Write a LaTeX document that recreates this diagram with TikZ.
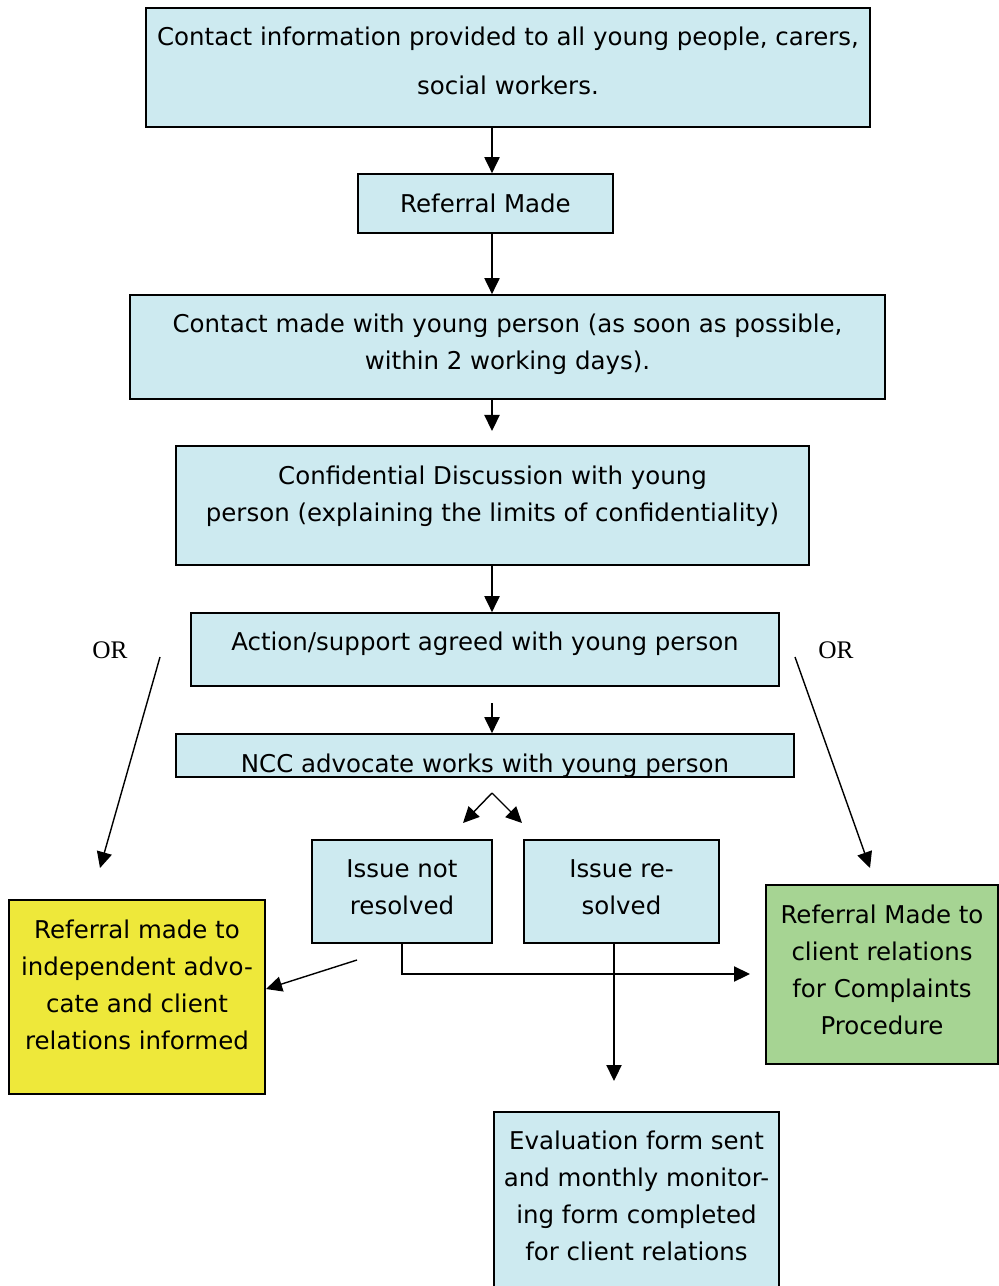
\documentclass[tikz,border=0pt]{standalone}
\usepackage{fontspec}
\setmainfont{DejaVu Sans}
\newfontfamily\orfont{Liberation Serif}
\usetikzlibrary{arrows.meta,positioning}
\usepackage{xcolor}
\definecolor{mblue}{HTML}{CDEAF0}
\definecolor{myellow}{HTML}{EEE83A}
\definecolor{mgreen}{HTML}{A6D493}
\tikzstyle{l1}=[line width=1.2pt]
\tikzstyle{box}=[rectangle, draw=black, l1, fill=mblue, inner sep=0pt]
\tikzstyle{txt}=[align=center, inner sep=0pt, font=\fontsize{17.4}{26.3}\selectfont]
\tikzstyle{arr}=[line width=1pt, -{Triangle[length=0.4cm,width=0.38cm]}]
\tikzstyle{ortext}=[font=\orfont\fontsize{18}{20}\selectfont]

\begin{document}
\begin{tikzpicture}[x=0.025cm, y=-0.025cm]
    \path[fill=white, use as bounding box] (0,0) rectangle (998,1286);

    % boxes
    \node[box, minimum width=18.1cm, minimum height=2.975cm] at (508,67.5) (cinfo) {};
    \node[txt, font=\fontsize{17.4}{34.9}\selectfont] at ([yshift=0.175cm]cinfo) (cinfo-t)
        {Contact information provided to all young people, carers,\\ social workers.};
    \node[box, minimum width=6.375cm, minimum height=1.475cm] at (485.5,203.5) (refmade) {};
    \node[txt] at (refmade) (refmade-t) {Referral Made};
    \node[box, minimum width=18.875cm, minimum height=2.6cm] at (507.5,347) (cmade) {};
    \node[txt] at ([yshift=0.075cm]cmade) (cmade-t)
        {Contact made with young person (as soon as possible,\\ within 2 working days).};
    \node[box, minimum width=15.825cm, minimum height=2.975cm] at (492.5,505.5) (confdisc) {};
    \node[txt] at ([yshift=0.24cm]confdisc) (confdisc-t)
        {Confidential Discussion with young\\ person (explaining the limits of confidentiality)};
    \node[box, minimum width=14.7cm, minimum height=1.825cm] at (485,649.5) (agreed) {};
    \node[txt] at ([yshift=0.15cm]agreed) (agreed-t) {Action/support agreed with young person};
    \node[box, minimum width=15.45cm, minimum height=1.075cm] at (485,755.5) (ncc) {};
    \node[txt] at ([yshift=-0.25cm]ncc) (ncc-t) {NCC advocate works with young person};
    \node[box, minimum width=4.5cm, minimum height=2.575cm] at (402,891.5) (notres) {};
    \node[txt] at ([yshift=0.1cm]notres) (notres-t) {Issue not\\ resolved};
    \node[box, minimum width=4.875cm, minimum height=2.575cm] at (621.5,891.5) (resolved) {};
    \node[txt] at ([yshift=0.1cm]resolved) (resolved-t) {Issue re-\\ solved};
    \node[box, fill=myellow, minimum width=6.4cm, minimum height=4.85cm] at (137,997) (indep) {};
    \node[txt] at ([yshift=0.3cm]indep) (indep-t)
        {Referral made to\\ independent advo-\\ cate and client\\ relations informed};
    \node[box, fill=mgreen, minimum width=5.8cm, minimum height=4.475cm] at (882,974.5) (complaints) {};
    \node[txt] at ([yshift=0.12cm]complaints) (complaints-t)
        {Referral Made to\\ client relations\\ for Complaints\\ Procedure};
    \node[box, minimum width=7.125cm, minimum height=4.7cm] at (636.5,1206) (evalform) {};
    \node[txt] at ([yshift=0.25cm]evalform) (evalform-t)
        {Evaluation form sent\\ and monthly monitor-\\ ing form completed\\ for client relations};

    \node[ortext] at (110,650) (orl) {OR};
    \node[ortext] at (836,650) (orr) {OR};

    % free ends
    \coordinate (mid) at (492,0);
    \coordinate (c3) at (492,431);
    \coordinate (a5) at (492,703);
    \coordinate (fork) at (492,793);
    \coordinate (fl) at (463,823);
    \coordinate (fr) at (522,823);
    \coordinate (orl1) at (160,657);
    \coordinate (orl2) at (100,868);
    \coordinate (orr1) at (795,657);
    \coordinate (orr2) at (870,868);
    \coordinate (nr1) at (357,960);
    \coordinate (nr2) at (266,989);
    \coordinate (cr) at (750,974);
    \coordinate (ev) at (614,1081);

    % connectors
    \draw[arr] (cinfo.south -| mid) -- (refmade.north -| mid);
    \draw[arr] (refmade.south -| mid) -- (cmade.north -| mid);
    \draw[arr] (cmade.south -| mid) -- (c3);
    \draw[arr] (confdisc.south -| mid) -- (agreed.north -| mid);
    \draw[arr] (a5) -- (ncc.north -| mid);
    \draw[arr] (fork) -- (fl);
    \draw[arr] (fork) -- (fr);
    \draw[arr] (orl1) -- (orl2);
    \draw[arr] (orr1) -- (orr2);
    \draw[arr] (nr1) -- (nr2);
    \draw[arr] (notres.south) |- (cr);
    \draw[arr] (resolved.south -| ev) -- (ev);
\end{tikzpicture}
\end{document}
